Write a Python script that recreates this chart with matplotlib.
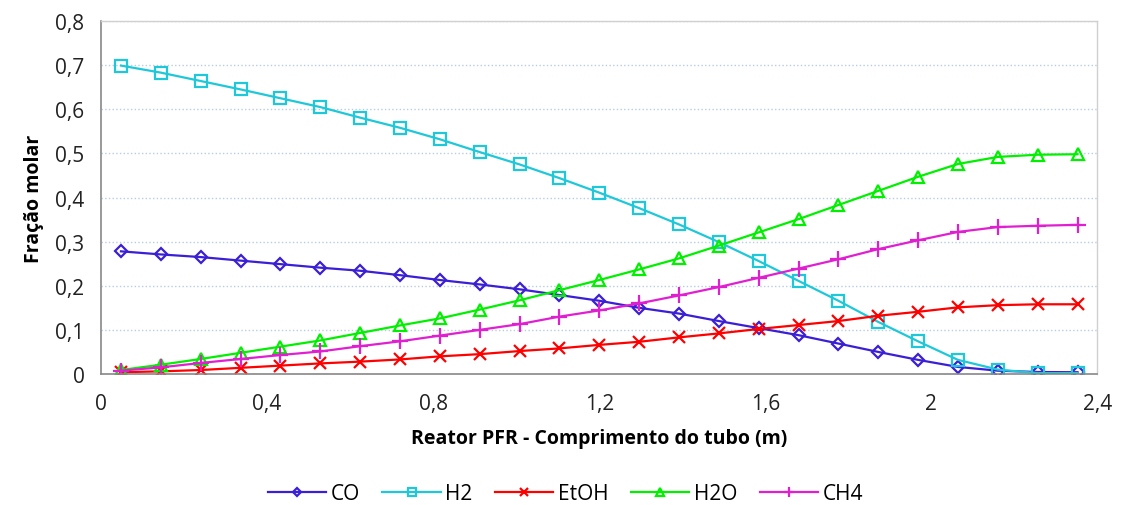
import numpy as np
import matplotlib
matplotlib.use("Agg")
import matplotlib.pyplot as plt

plt.rcParams['font.family'] = ['Open Sans', 'DejaVu Sans']

# Tube length positions (m)
x = [0.048, 0.144, 0.240, 0.336, 0.432, 0.528, 0.624, 0.720, 0.816, 0.912,
     1.008, 1.104, 1.200, 1.296, 1.392, 1.488, 1.584, 1.680, 1.776, 1.872,
     1.968, 2.064, 2.160, 2.256, 2.352]

co = [0.278, 0.271, 0.265, 0.257, 0.249, 0.241, 0.234, 0.224, 0.213, 0.203,
      0.192, 0.179, 0.166, 0.150, 0.137, 0.120, 0.104, 0.088, 0.069, 0.050,
      0.032, 0.016, 0.0075, 0.0045, 0.004]
h2 = [0.699, 0.683, 0.664, 0.645, 0.625, 0.605, 0.581, 0.558, 0.532, 0.503,
      0.475, 0.444, 0.411, 0.376, 0.339, 0.299, 0.256, 0.211, 0.166, 0.118,
      0.074, 0.032, 0.010, 0.002, 0.002]
etoh = [0.004, 0.006, 0.009, 0.014, 0.019, 0.024, 0.028, 0.033, 0.040, 0.045,
        0.052, 0.058, 0.066, 0.073, 0.083, 0.092, 0.102, 0.111, 0.120, 0.132,
        0.141, 0.151, 0.156, 0.158, 0.158]
h2o = [0.009, 0.021, 0.034, 0.048, 0.062, 0.076, 0.093, 0.110, 0.126, 0.146,
       0.167, 0.190, 0.213, 0.237, 0.262, 0.291, 0.321, 0.351, 0.383, 0.415,
       0.447, 0.476, 0.492, 0.497, 0.498]
ch4 = [0.0075, 0.015, 0.025, 0.034, 0.043, 0.051, 0.063, 0.074, 0.087, 0.100,
       0.113, 0.130, 0.144, 0.160, 0.178, 0.197, 0.218, 0.239, 0.260, 0.283,
       0.303, 0.322, 0.333, 0.336, 0.338]

labels = ['CO', 'H2', 'EtOH', 'H2O', 'CH4']
series = [co, h2, etoh, h2o, ch4]
colors = ['#3A1FD6', '#1FC8D8', '#FF0000', '#00F000', '#E020D0']
markers = ['D', 's', 'x', '^', '+']
msizes = [6, 8, 9, 9, 11]

xticks = [0, 0.4, 0.8, 1.2, 1.6, 2.0, 2.4]
xticklabels = ['0', '0,4', '0,8', '1,2', '1,6', '2', '2,4']
yticks = [0, 0.1, 0.2, 0.3, 0.4, 0.5, 0.6, 0.7, 0.8]
yticklabels = ['0', '0,1', '0,2', '0,3', '0,4', '0,5', '0,6', '0,7', '0,8']

fig = plt.figure(figsize=(11.24, 5.06), dpi=100)
ax = fig.add_axes([0.0899, 0.2589, 0.8865, 0.6976])

for s, lab, c, m, ms in zip(series, labels, colors, markers, msizes):
    if m in ('x', '+'):
        ax.plot(x, s, color=c, lw=1.6, marker=m, ms=ms, mew=1.6, label=lab)
    else:
        ax.plot(x, s, color=c, lw=1.6, marker=m, ms=ms, mew=1.6,
                mfc='none', mec=c, label=lab)

ax.set_xlim(0, 2.4)
ax.set_ylim(0, 0.8)
ax.set_xticks(xticks)
ax.set_xticklabels(xticklabels)
ax.set_yticks(yticks)
ax.set_yticklabels(yticklabels)
ax.tick_params(length=0, labelsize=15, colors='#222222', pad=12)
ax.tick_params(axis='x', pad=14)

ax.grid(axis='y', color='#B8CCE4', linestyle=':', linewidth=1)
ax.set_axisbelow(True)
for sp in ['left', 'bottom']:
    ax.spines[sp].set_color('#888888')
    ax.spines[sp].set_linewidth(1.2)
for sp in ['top', 'right']:
    ax.spines[sp].set_color('#D0D0D0')
    ax.spines[sp].set_linewidth(1)

ax.set_xlabel('Reator PFR - Comprimento do tubo (m)', fontsize=14,
              fontweight='bold', labelpad=10)
ax.set_ylabel('Fração molar', fontsize=14, fontweight='bold', labelpad=8)

handles, labs = ax.get_legend_handles_labels()
leg = fig.legend(handles, labs, loc='center', bbox_to_anchor=(0.503, 0.022),
                 ncol=5, frameon=False, fontsize=15, handlelength=2.8,
                 columnspacing=1.1, handletextpad=0.2, markerscale=0.7)

fig.savefig('out.png', dpi=100)
